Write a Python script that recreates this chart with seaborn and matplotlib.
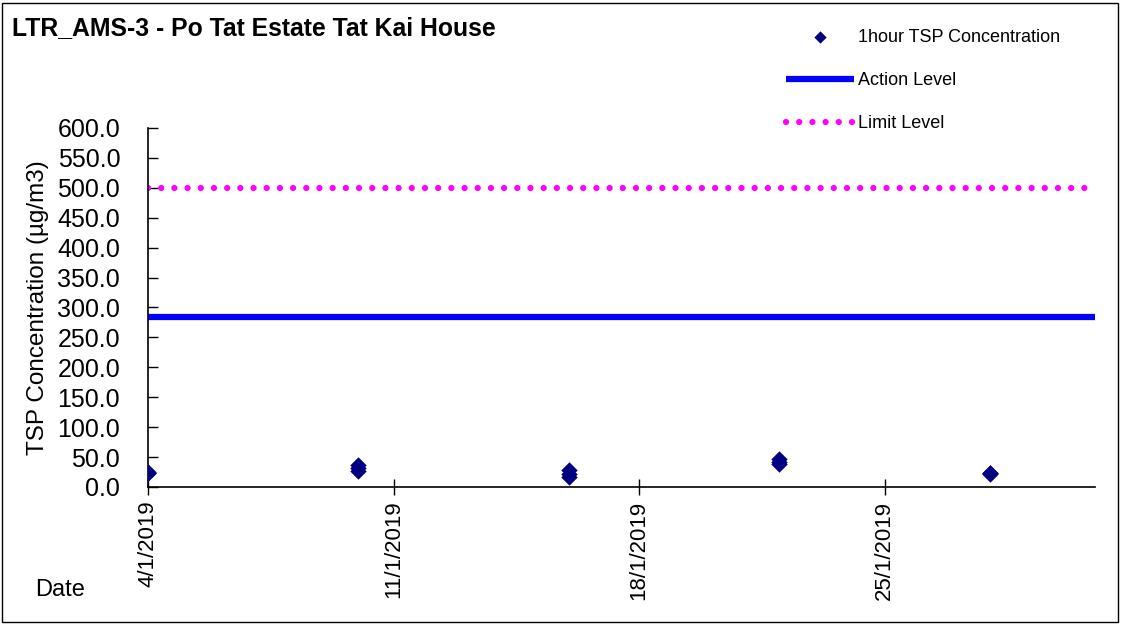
import numpy as np
import pandas as pd
import matplotlib
matplotlib.use("Agg")
import matplotlib.pyplot as plt
from matplotlib.ticker import FuncFormatter, MultipleLocator
import seaborn as sns

sns.set_theme(style="ticks")
plt.rcParams['font.family'] = ['Liberation Sans', 'DejaVu Sans']
plt.rcParams['text.color'] = 'black'

# 1-hour TSP samples (three per monitoring day)
sample_dates = ["2019-01-04", "2019-01-04", "2019-01-04",
                "2019-01-10", "2019-01-10", "2019-01-10",
                "2019-01-16", "2019-01-16", "2019-01-16",
                "2019-01-22", "2019-01-22", "2019-01-22",
                "2019-01-28", "2019-01-28", "2019-01-28"]
tsp_values = [25, 24, 24,
              36, 31, 27,
              28, 22, 17,
              47, 42, 38,
              23, 23, 22]

level_dates = ["2019-01-04", "2019-01-31"]
action_level = [284, 284]
limit_level = [500, 500]

tick_dates = ["2019-01-04", "2019-01-11", "2019-01-18", "2019-01-25"]
tick_labels = ["4/1/2019", "11/1/2019", "18/1/2019", "25/1/2019"]

df = pd.DataFrame({"Date": pd.to_datetime(sample_dates), "TSP": tsp_values})
levels = pd.DataFrame({"Date": pd.to_datetime(level_dates),
                       "Action": action_level, "Limit": limit_level})

fig = plt.figure(figsize=(11.21, 6.24), dpi=100)
ax = fig.add_axes([0.132, 0.2196, 0.845, 0.5753])

sns.scatterplot(data=df, x="Date", y="TSP", marker="D", s=70, color="#000080",
                edgecolor="#000080", linewidth=0, ax=ax, label="1hour TSP Concentration", zorder=3)
sns.lineplot(data=levels, x="Date", y="Action", color="#0000FF", linewidth=4.5,
             ax=ax, label="Action Level", solid_capstyle="butt")
sns.lineplot(data=levels, x="Date", y="Limit", color="#FF00FF", linewidth=4.5,
             ax=ax, label="Limit Level", dashes=False)
limit_line = ax.get_lines()[-1]
limit_line.set_linestyle((0, (0.01, 2.1)))
limit_line.set_dash_capstyle("round")

ax.set_xlim(pd.Timestamp("2019-01-04"), pd.Timestamp("2019-01-31"))
ax.set_ylim(0, 600)
ax.yaxis.set_major_locator(MultipleLocator(50))
ax.yaxis.set_major_formatter(FuncFormatter(lambda v, p: f"{v:.1f}"))
ax.set_xticks(pd.to_datetime(tick_dates))
ax.set_xticklabels(tick_labels, rotation=90, va="top", ha="center")

ax.tick_params(axis="y", direction="in", length=7, width=1, labelsize=18, pad=20, colors="black")
ax.tick_params(axis="x", direction="inout", length=12, width=1, labelsize=16, pad=4, colors="black")
for s in ["top", "right"]:
    ax.spines[s].set_visible(False)
for s in ["left", "bottom"]:
    ax.spines[s].set_color("black")
    ax.spines[s].set_linewidth(1.2)

ax.set_xlabel("")
ax.set_ylabel("TSP Concentration (µg/m3)", fontsize=17.5, labelpad=6, color="black")
ax.grid(False)

leg = ax.get_legend()
if leg is not None:
    leg.remove()
handles, labels = ax.get_legend_handles_labels()
fig.legend(handles, labels, loc="upper left", bbox_to_anchor=(786 / 1121, 1 - 29 / 624),
           frameon=False, fontsize=13, handlelength=3.75, handletextpad=0.25,
           labelspacing=1.45, borderpad=0, borderaxespad=0, markerscale=0.75,
           labelcolor="black")

fig.text(12 / 1121, 1 - 28 / 624, "LTR_AMS-3 - Po Tat Estate Tat Kai House",
         fontsize=17.8, fontweight="bold", va="center", ha="left", color="black")
fig.text(35 / 1121, 1 - 590 / 624, "Date", fontsize=17, va="center", ha="left", color="black")

fig.patches.append(plt.Rectangle((0.002, 0.003), 0.995, 0.992, transform=fig.transFigure,
                                 fill=False, edgecolor="black", linewidth=1))

fig.savefig("out.png", dpi=100)
